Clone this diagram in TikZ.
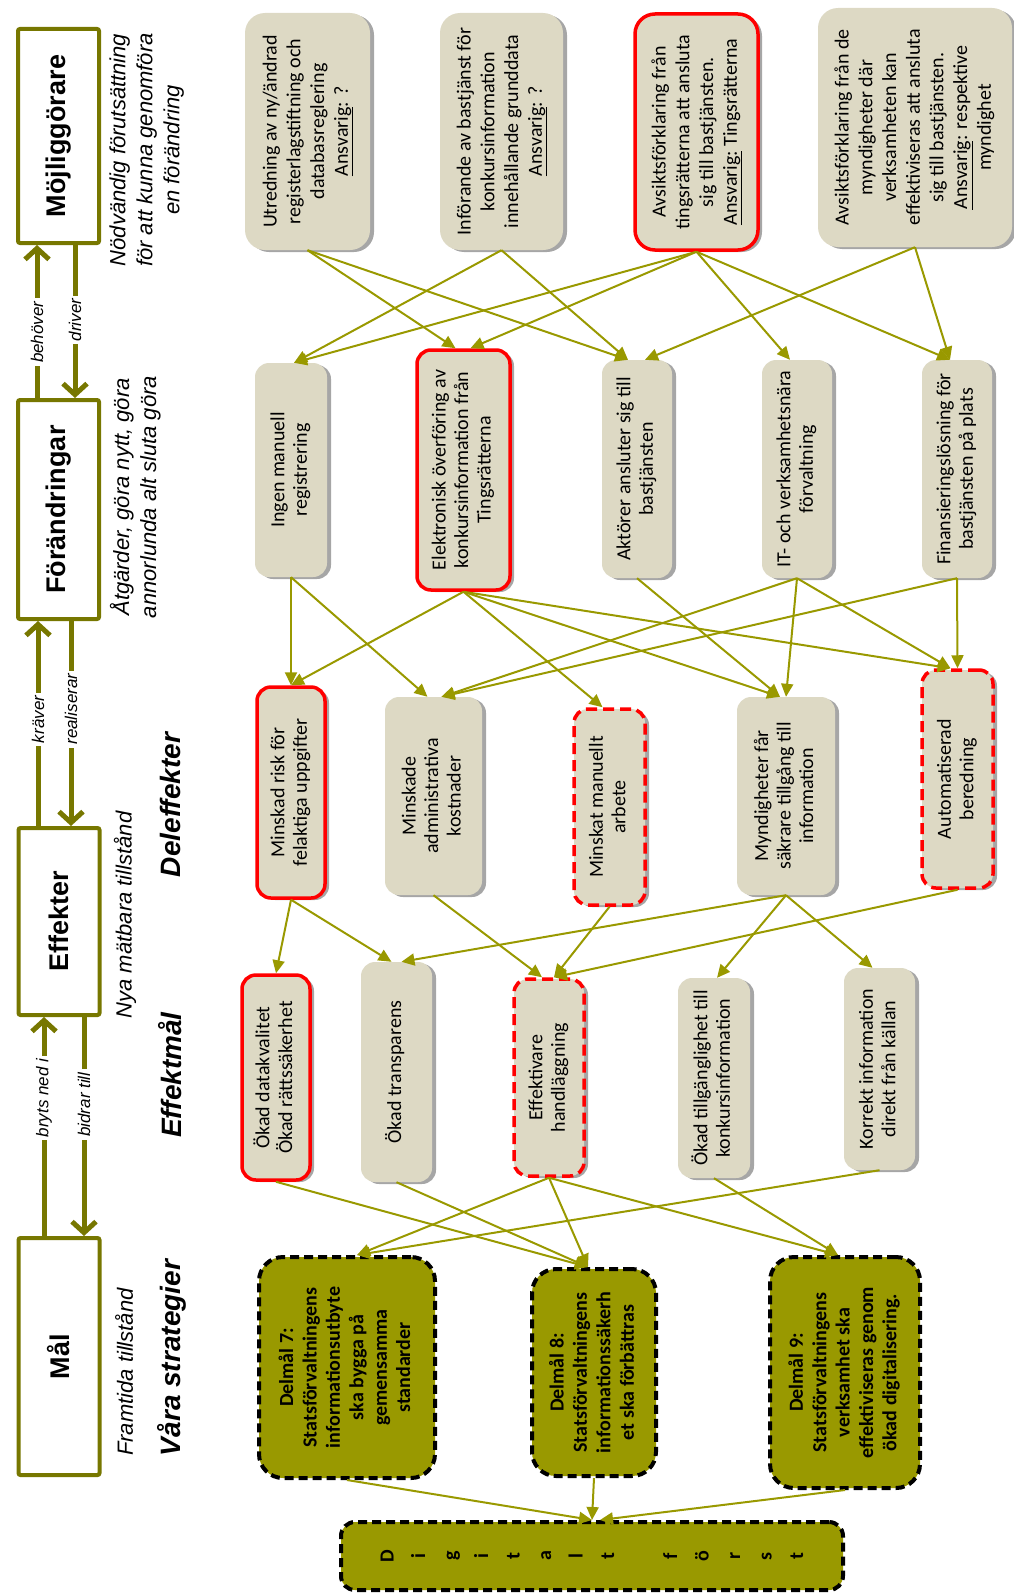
\documentclass[tikz,border=0pt]{standalone}
\usepackage{fontspec}
\setmainfont{Carlito}
\newfontfamily\arialfont{Liberation Sans}
\usepackage{graphicx}
\usetikzlibrary{arrows.meta,shadows}
\definecolor{beige}{HTML}{DDD9C4}
\definecolor{olv}{HTML}{999900}
\definecolor{dolv}{HTML}{777700}
\newcommand\rottxt[1]{\rotatebox{90}{\begin{tabular}{@{}c@{}}#1\end{tabular}}}
\begin{document}
\begin{tikzpicture}[x=1pt,y=-1pt,
 lbox/.style={draw=dolv, line width=4pt, fill=white, rounded corners=2pt, inner sep=0pt, font=\arialfont\bfseries\fontsize{27}{30}\selectfont},
 gbox/.style={fill=beige, rounded corners=14pt, inner sep=0pt, drop shadow={shadow xshift=4pt, shadow yshift=-2pt, opacity=0.35, fill=black}, font=\fontsize{20}{22.5}\selectfont},
 tbox/.style={gbox, rounded corners=20pt, font=\fontsize{20}{23.7}\selectfont},
 rsolid/.style={draw=red, line width=3.5pt},
 rdash/.style={draw=red, line width=3.5pt, dash pattern=on 11pt off 6pt},
 sbox/.style={fill=olv, draw=black, line width=4pt, dash pattern=on 9pt off 5pt, rounded corners=24pt, inner sep=0pt, font=\bfseries\fontsize{20}{23.4}\selectfont},
 conn/.style={draw=olv, line width=2pt, -{Triangle[length=13pt,width=12pt]}},
 bigarr/.style={draw=dolv, line width=5pt, -{Straight Barb[length=11pt,width=24pt]}},
 lab/.style={fill=white, inner sep=3pt, font=\arialfont\itshape\fontsize{17}{20}\selectfont},
 captxt/.style={inner sep=0pt, font=\arialfont\itshape\fontsize{22}{27}\selectfont},
 hdtxt/.style={inner sep=0pt, font=\arialfont\bfseries\itshape\fontsize{28}{32}\selectfont}]
\useasboundingbox (0,0) rectangle (1014,1595);

% left column
\node[lbox, minimum width=81pt, minimum height=214pt] (M)  at (58.5,136)   {\rotatebox{90}{Möjliggörare}};
\node[lbox, minimum width=81pt, minimum height=219pt] (Fo) at (58.5,509.5) {\rotatebox{90}{Förändringar}};
\node[lbox, minimum width=81pt, minimum height=187pt] (Ef) at (59,921.5)   {\rotatebox{90}{Effekter}};
\node[lbox, minimum width=81pt, minimum height=237pt] (Ma) at (59,1356.5)  {\rotatebox{90}{Mål}};

\coordinate (xa) at (37,0);
\coordinate (xb) at (75,0);
\coordinate (xc) at (38,0);
\coordinate (xd) at (71,0);
\coordinate (xe) at (44,0);
\coordinate (xf) at (84,0);
\draw[bigarr] (Fo.north -| xa) -- node[lab,pos=0.43]{\rotatebox{90}{behöver}} (M.south -| xa);
\draw[bigarr] (M.south -| xb) -- node[lab,pos=0.49]{\rotatebox{90}{driver}} (Fo.north -| xb);
\draw[bigarr] (Ef.north -| xc) -- node[lab,pos=0.52]{\rotatebox{90}{kräver}} (Fo.south -| xc);
\draw[bigarr] (Fo.south -| xd) -- node[lab,pos=0.43]{\rotatebox{90}{realiserar}} (Ef.north -| xd);
\draw[bigarr] (Ma.north -| xe) -- node[lab,pos=0.63]{\rotatebox{90}{bryts ned i}} (Ef.south -| xe);
\draw[bigarr] (Ef.south -| xf) -- node[lab,pos=0.40]{\rotatebox{90}{bidrar till}} (Ma.north -| xf);

% captions and headings
\node[captxt] (cap1) at (147,150) {\rottxt{Nödvändig förutsättning\\för att kunna genomföra\\en förändring}};
\node[captxt] (cap2) at (137,497) {\rottxt{Åtgärder, göra nytt, göra\\annorlunda alt sluta göra}};
\node[captxt] (cap3) at (125,915) {\rotatebox{90}{Nya mätbara tillstånd}};
\node[captxt] (cap4) at (124,1372) {\rotatebox{90}{Framtida tillstånd}};
\node[hdtxt] (h1) at (170,805) {\rotatebox{90}{Deleffekter}};
\node[hdtxt] (h2) at (170,1075) {\rotatebox{90}{Effektmål}};
\node[hdtxt] (h3) at (172,1358) {\rotatebox{90}{Våra strategier}};

% row 1
\node[tbox, minimum width=125pt, minimum height=237pt] (A1) at (307.5,131.5) {\rottxt{Utredning av ny/ändrad\\registerlagstiftning och\\databasreglering\\\underline{Ansvarig}: ?}};
\node[tbox, minimum width=123pt, minimum height=237pt] (A2) at (501.5,131.5) {\rottxt{Införande av bastjänst för\\konkursinformation\\innehållande grunddata\\\underline{Ansvarig}: ?}};
\node[tbox, rsolid, minimum width=123pt, minimum height=236pt] (A3) at (696.5,132) {\rottxt{Avsiktsförklaring från\\tingsrätterna att ansluta\\sig till bastjänsten.\\\underline{Ansvarig:} Tingsrätterna}};
\node[tbox, minimum width=194pt, minimum height=239pt] (A4) at (915,127.5) {\rottxt{Avsiktsförklaring från de\\myndigheter där\\verksamheten kan\\effektiviseras att ansluta\\sig till bastjänsten.\\\underline{Ansvarig}: respektive\\myndighet}};

% row 2
\node[gbox, minimum width=72pt, minimum height=214pt] (B1) at (291,470) {\rottxt{Ingen manuell\\registrering}};
\node[gbox, rsolid, minimum width=93pt, minimum height=240pt] (B2) at (463.5,470) {\rottxt{Elektronisk överföring av\\konkursinformation från\\Tingsrätterna}};
\node[gbox, minimum width=70pt, minimum height=218pt] (B3) at (637,469) {\rottxt{Aktörer ansluter sig till\\bastjänsten}};
\node[gbox, minimum width=70pt, minimum height=218pt] (B4) at (797,469) {\rottxt{IT- och verksamhetsnära\\förvaltning}};
\node[gbox, minimum width=70pt, minimum height=218pt] (B5) at (957,469) {\rottxt{Finansieringslösning för\\bastjänsten på plats}};

% row 3
\node[gbox, rsolid, minimum width=68pt, minimum height=211pt] (C1) at (291,792.5) {\rottxt{Minskad risk för\\felaktiga uppgifter}};
\node[gbox, minimum width=97pt, minimum height=198pt] (C2) at (433.5,796) {\rottxt{Minskade\\administrativa\\kostnader}};
\node[gbox, rdash, minimum width=71pt, minimum height=196pt] (C3) at (609.5,807) {\rottxt{Minskat manuellt\\arbete}};
\node[gbox, minimum width=98pt, minimum height=198pt] (C4) at (786,796) {\rottxt{Myndigheter får\\säkrare tillgång till\\information}};
\node[gbox, rdash, minimum width=71pt, minimum height=218pt] (C5) at (957.5,779) {\rottxt{Automatiserad\\beredning}};

% row 4
\node[gbox, rsolid, minimum width=68pt, minimum height=205pt] (D1) at (276,1077.5) {\rottxt{Ökad datakvalitet\\Ökad rättssäkerhet}};
\node[gbox, minimum width=71pt, minimum height=220pt] (D2) at (396.5,1072) {\rottxt{Ökad transparens}};
\node[gbox, rdash, minimum width=70pt, minimum height=197pt] (D3) at (549,1077.5) {\rottxt{Effektivare\\handläggning}};
\node[gbox, minimum width=72pt, minimum height=200pt] (D4) at (714,1078) {\rottxt{Ökad tillgänglighet till\\konkursinformation}};
\node[gbox, minimum width=71pt, minimum height=202pt] (D5) at (879.5,1069) {\rottxt{Korrekt information\\direkt från källan}};

% row 5
\node[sbox, minimum width=176pt, minimum height=221pt] (E1) at (347,1367.5) {\rottxt{Delmål 7:\\Statsförvaltningens\\informationsutbyte\\ska bygga på\\gemensamma\\standarder}};
\node[sbox, minimum width=124pt, minimum height=207pt] (E2) at (594,1372.5) {\rottxt{Delmål 8:\\Statsförvaltningens\\informationssäkerh\\et ska förbättras}};
\node[sbox, minimum width=150pt, minimum height=231pt] (E3) at (845,1372.5) {\rottxt{Delmål 9:\\Statsförvaltningens\\verksamhet ska\\effektiviseras genom\\ökad digitalisering.}};
\node[sbox, rounded corners=14pt, minimum width=502pt, minimum height=68pt, font=\bfseries\fontsize{20}{31.5}\selectfont] (F) at (592,1556) {\rottxt{D\\i\\g\\i\\t\\a\\l\\t\\ \\f\\ö\\r\\s\\t}};

% connectors row 1 -> row 2
\draw[conn] (A1.south) -- ([xshift=-8pt]B2.north);
\draw[conn] (A1.south) -- ([xshift=-9pt]B3.north);
\draw[conn] (A2.south) -- ([xshift=3pt]B1.north);
\draw[conn] (A2.south) -- ([xshift=-9pt]B3.north);
\draw[conn] (A3.south) -- ([xshift=3pt]B1.north);
\draw[conn] (A3.south) -- ([xshift=7pt]B2.north);
\draw[conn] (A3.south) -- ([xshift=-7pt]B4.north);
\draw[conn] (A3.south) -- ([xshift=-7pt]B5.north);
\draw[conn] (A4.south) -- ([xshift=8pt]B3.north);
\draw[conn] (A4.south) -- ([xshift=-7pt]B5.north);

% row 2 -> row 3
\draw[conn] (B1.south) -- (C1.north);
\draw[conn] (B1.south) -- ([xshift=-6pt]C2.north);
\draw[conn] (B2.south) -- (C1.north);
\draw[conn] (B2.south) -- ([xshift=-7pt]C3.north);
\draw[conn] (B2.south) -- ([xshift=-6pt]C4.north);
\draw[conn] (B2.south) -- ([xshift=-7pt]C5.north);
\draw[conn] (B3.south) -- ([xshift=-6pt]C4.north);
\draw[conn] (B4.south) -- ([xshift=8pt]C2.north);
\draw[conn] (B4.south) -- (C4.north);
\draw[conn] (B4.south) -- ([xshift=-7pt]C5.north);
\draw[conn] (B5.south) -- ([xshift=8pt]C2.north);
\draw[conn] (B5.south) -- (C5.north);

% row 3 -> row 4
\draw[conn] (C1.south) -- (D1.north);
\draw[conn] (C1.south) -- ([xshift=-5pt]D2.north);
\draw[conn] (C2.south) -- ([xshift=-7pt]D3.north);
\draw[conn] (C3.south) -- ([xshift=5pt]D3.north);
\draw[conn] (C4.south) -- ([xshift=5pt]D2.north);
\draw[conn] (C4.south) -- ([xshift=3pt]D4.north);
\draw[conn] (C4.south) -- ([xshift=-7pt]D5.north);
\draw[conn] (C5.south) -- ([xshift=5pt]D3.north);

% row 4 -> row 5
\draw[conn] (D1.south) -- ([xshift=-6pt]E2.north);
\draw[conn] (D2.south) -- ([xshift=-6pt]E2.north);
\draw[conn] (D3.south) -- ([xshift=10pt]E1.north);
\draw[conn] (D3.south) -- ([xshift=-6pt]E2.north);
\draw[conn] (D3.south) -- ([xshift=-7pt]E3.north);
\draw[conn] (D4.south) -- ([xshift=-7pt]E3.north);
\draw[conn] (D5.south) -- ([xshift=10pt]E1.north);

% row 5 -> F
\draw[conn] (E1.south) -- (F.north);
\draw[conn] (E2.south) -- (F.north);
\draw[conn] (E3.south) -- ([xshift=8pt]F.north);
\end{tikzpicture}
\end{document}
